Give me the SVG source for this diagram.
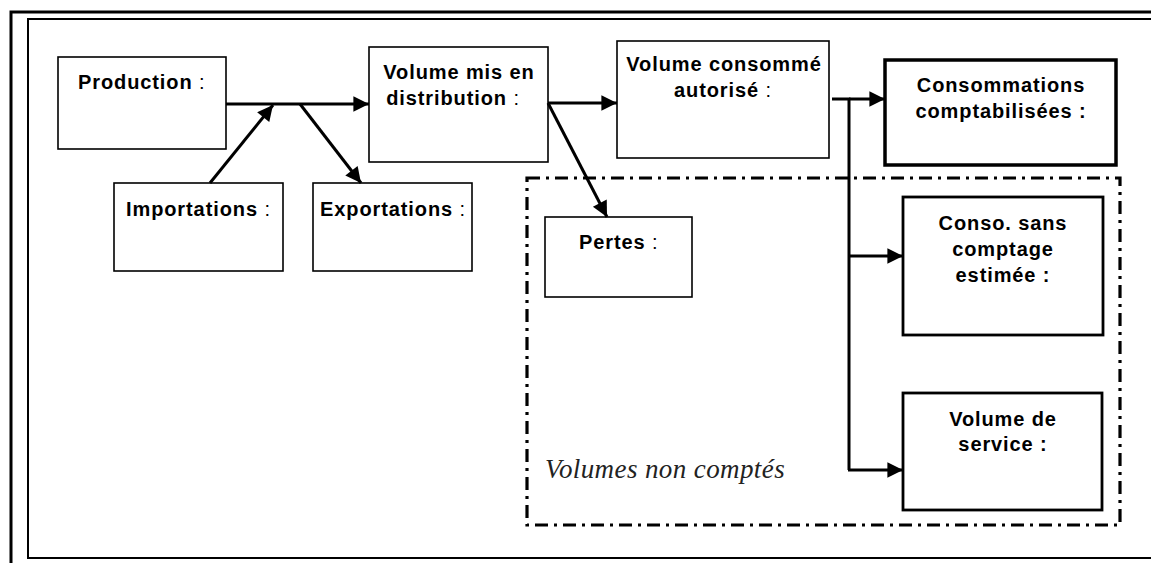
<svg xmlns="http://www.w3.org/2000/svg" width="1151" height="563" viewBox="0 0 1151 563">
<defs>
<marker id="ah" viewBox="0 0 10 10" refX="10" refY="5" markerWidth="6.5" markerHeight="5.2" markerUnits="strokeWidth" orient="auto"><path d="M0,0 L10,5 L0,10 Z" fill="#000"/></marker>
<style>
.b{fill:#fff;stroke:#000;stroke-width:1.6}
.bt{fill:#fff;stroke:#000;stroke-width:3.5}
.bm{fill:#fff;stroke:#000;stroke-width:2.8}
.t{font-family:"Liberation Sans",Arial,sans-serif;font-weight:bold;font-size:20px;letter-spacing:0.9px;fill:#000}
.c{text-anchor:middle}
.n{font-weight:normal}
.ln{fill:none;stroke:#000;stroke-width:3}
</style>
</defs>
<rect width="1151" height="563" fill="#fff"/>
<g id="frame" fill="none" stroke="#000">
<path d="M11,563 V12 H1151" stroke-width="3"/>
<path d="M1151,19 H28 V558 H1151" stroke-width="2"/>
</g>
<g id="zone">
<rect x="527" y="178" width="593" height="347" fill="none" stroke="#000" stroke-width="3.2" stroke-dasharray="13,6,3,6"/>
<text x="545" y="478" font-family="'Liberation Serif','Times New Roman',serif" font-style="italic" font-size="27" letter-spacing="0.4" fill="#222">Volumes non comptés</text>
</g>
<g id="production"><rect class="b" x="58" y="57" width="168" height="92"/><text class="t" x="78" y="89">Production <tspan class="n">:</tspan></text></g>
<g id="importations"><rect class="b" x="114" y="183" width="169" height="88"/><text class="t" x="126" y="216">Importations <tspan class="n">:</tspan></text></g>
<g id="exportations"><rect class="b" x="313" y="183" width="159" height="88"/><text class="t" x="320" y="216">Exportations <tspan class="n">:</tspan></text></g>
<g id="distribution"><rect class="b" x="369" y="47" width="179" height="115"/><text class="t c" x="459" y="79">Volume mis en</text><text class="t c" x="453" y="105">distribution <tspan class="n">:</tspan></text></g>
<g id="autorise"><rect class="b" x="617" y="41" width="212" height="117"/><text class="t c" x="724" y="71">Volume consommé</text><text class="t c" x="723" y="97">autorisé <tspan class="n">:</tspan></text></g>
<g id="pertes"><rect class="b" x="545" y="217" width="147" height="80"/><text class="t" x="579" y="249">Pertes <tspan class="n">:</tspan></text></g>
<g id="comptabilisees"><rect class="bt" x="885" y="60" width="231" height="105"/><text class="t c" x="1001" y="92">Consommations</text><text class="t c" x="1001" y="118">comptabilisées :</text></g>
<g id="sanscomptage"><rect class="bm" x="903" y="197" width="200" height="138"/><text class="t c" x="1003" y="230">Conso. sans</text><text class="t c" x="1003" y="256">comptage</text><text class="t c" x="1003" y="282">estimée :</text></g>
<g id="service"><rect class="bm" x="903" y="393" width="199" height="117"/><text class="t c" x="1003" y="426">Volume de</text><text class="t c" x="1003" y="451">service :</text></g>
<g id="connectors">
<line class="ln" x1="226" y1="104" x2="369" y2="104" marker-end="url(#ah)"/>
<line class="ln" x1="210" y1="183" x2="273" y2="105" marker-end="url(#ah)"/>
<line class="ln" x1="300" y1="104" x2="361" y2="183" marker-end="url(#ah)"/>
<line class="ln" x1="548" y1="103" x2="617" y2="103" marker-end="url(#ah)"/>
<line class="ln" x1="548" y1="103" x2="607" y2="217" marker-end="url(#ah)"/>
<path class="ln" d="M832,99 H849 V470"/>
<line class="ln" x1="849" y1="99" x2="885" y2="99" marker-end="url(#ah)"/>
<line class="ln" x1="849" y1="256" x2="903" y2="256" marker-end="url(#ah)"/>
<line class="ln" x1="848" y1="470" x2="903" y2="470" marker-end="url(#ah)"/>
</g>
</svg>
